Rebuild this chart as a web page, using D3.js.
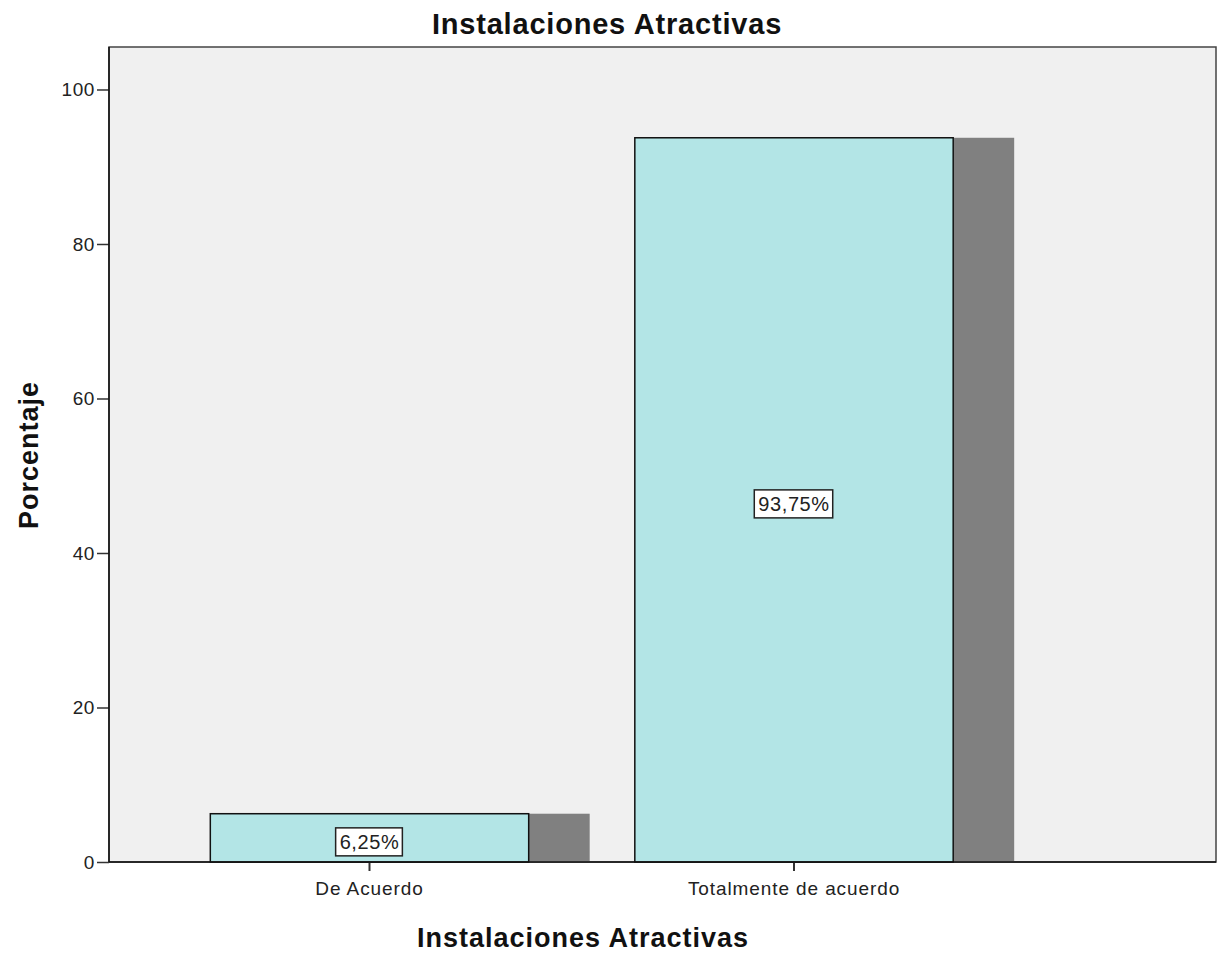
<!DOCTYPE html>
<html>
<head>
<meta charset="utf-8">
<script src="https://cdn.jsdelivr.net/npm/d3@7"></script>
<style>
  body { margin: 0; background: #fff; }
  svg { font-family: Arial, "Liberation Sans", sans-serif; }
</style>
</head>
<body>
<div id="chart"></div>
<script>
// data
var categories = ["De Acuerdo", "Totalmente de acuerdo"];
var percents = [6.25, 93.75];
var valueLabels = ["6,25%", "93,75%"];
var yTicks = [0, 20, 40, 60, 80, 100];

var width = 1221, height = 953;
var plotLeft = 109, plotRight = 1216, plotTop = 47, plotBottom = 862;

var svg = d3.select('#chart')
    .append('svg')
    .attr('width', width)
    .attr('height', height);

// scales
var y = d3.scaleLinear().domain([0, 105.5]).range([plotBottom, plotTop]);
var x = d3.scaleBand()
    .domain(categories)
    .range([157.25, 1006.25])
    .paddingInner(0.25)
    .paddingOuter(0.125);
var shadowOffset = 61;

// plot background
svg.append('rect')
    .attr('x', plotLeft).attr('y', plotTop)
    .attr('width', plotRight - plotLeft).attr('height', plotBottom - plotTop)
    .attr('fill', '#f0f0f0')
    .attr('stroke', '#444')
    .attr('stroke-width', 1.5);

// shadows
svg.selectAll('rect.shadow')
    .data(percents)
    .enter()
    .append('rect')
    .attr('class', 'shadow')
    .attr('x', (d, i) => x(categories[i]) + shadowOffset)
    .attr('y', d => y(d))
    .attr('width', x.bandwidth())
    .attr('height', d => plotBottom - y(d))
    .attr('fill', '#808080');

// bars
svg.selectAll('rect.bar')
    .data(percents)
    .enter()
    .append('rect')
    .attr('class', 'bar')
    .attr('x', (d, i) => x(categories[i]))
    .attr('y', d => y(d))
    .attr('width', x.bandwidth())
    .attr('height', d => plotBottom - y(d))
    .attr('fill', '#b3e5e6')
    .attr('stroke', '#111')
    .attr('stroke-width', 1.5);

// axes
var yAxis = svg.append('g')
    .attr('transform', `translate(${plotLeft},0)`)
    .call(d3.axisLeft(y).tickValues(yTicks).tickSize(12).tickPadding(2).tickSizeOuter(0));
yAxis.select('.domain').remove();
yAxis.append('line')
    .attr('x1', 0).attr('x2', 0)
    .attr('y1', plotTop).attr('y2', plotBottom)
    .attr('stroke', '#111').attr('stroke-width', 1.5);
yAxis.selectAll('.tick line').attr('stroke', '#333').attr('stroke-width', 1.5);
yAxis.selectAll('.tick text')
    .attr('font-size', 19).attr('letter-spacing', 0.6).attr('fill', '#222')
    .attr('font-family', 'Arial, "Liberation Sans", sans-serif');

var xAxis = svg.append('g')
    .attr('transform', `translate(0,${plotBottom})`)
    .call(d3.axisBottom(x).tickSize(9).tickPadding(11).tickSizeOuter(0));
xAxis.select('.domain').remove();
xAxis.append('line')
    .attr('x1', plotLeft).attr('x2', plotRight)
    .attr('y1', 0).attr('y2', 0)
    .attr('stroke', '#111').attr('stroke-width', 1.5);
xAxis.selectAll('.tick line').attr('stroke', '#333').attr('stroke-width', 2);
xAxis.selectAll('.tick text')
    .attr('font-size', 19).attr('letter-spacing', 0.9).attr('fill', '#222')
    .attr('font-family', 'Arial, "Liberation Sans", sans-serif');

// value labels
var lab = svg.selectAll('g.vlabel')
    .data(percents)
    .enter()
    .append('g')
    .attr('class', 'vlabel')
    .attr('transform', (d, i) => `translate(${x(categories[i]) + x.bandwidth() / 2},${(y(d) + plotBottom) / 2 + 4})`);

lab.append('text')
    .text((d, i) => valueLabels[i])
    .attr('text-anchor', 'middle')
    .attr('dy', '0.35em')
    .attr('font-size', 20)
    .attr('letter-spacing', 0.6)
    .attr('fill', '#222');

lab.each(function () {
  var g = d3.select(this);
  var bb = g.select('text').node().getBBox();
  g.insert('rect', 'text')
    .attr('x', bb.x - 4).attr('y', bb.y - 3)
    .attr('width', bb.width + 7).attr('height', bb.height + 6)
    .attr('fill', '#fff')
    .attr('stroke', '#222')
    .attr('stroke-width', 1.5);
});

// titles
svg.append('text')
    .attr('x', 607).attr('y', 34)
    .attr('text-anchor', 'middle')
    .attr('font-size', 29).attr('font-weight', 'bold')
    .attr('letter-spacing', 0.8)
    .attr('fill', '#111')
    .text('Instalaciones Atractivas');

svg.append('text')
    .attr('x', 583).attr('y', 947)
    .attr('text-anchor', 'middle')
    .attr('font-size', 27).attr('font-weight', 'bold')
    .attr('letter-spacing', 1)
    .attr('fill', '#111')
    .text('Instalaciones Atractivas');

svg.append('text')
    .attr('transform', `translate(38,${455})rotate(-90)`)
    .attr('text-anchor', 'middle')
    .attr('font-size', 27).attr('font-weight', 'bold')
    .attr('letter-spacing', 1)
    .attr('fill', '#111')
    .text('Porcentaje');
</script>
</body>
</html>
